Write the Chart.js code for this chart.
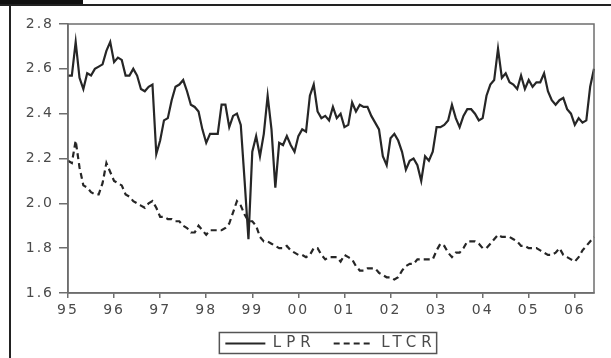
<!DOCTYPE html>
<html>
<head>
<meta charset="utf-8">
<script src="https://cdn.jsdelivr.net/npm/chart.js@4.4.0/dist/chart.umd.min.js"></script>
<style>
    html, body { margin: 0; padding: 0; background: #fff; }
    #wrap { position: relative; width: 611px; height: 358px; overflow: hidden; }
    canvas { position: absolute; left: 0; top: 0; }
    #tab { position: absolute; left: 0; top: 0; width: 83px; height: 5px; background: #111; }
    #rule { position: absolute; left: 0; top: 4px; width: 611px; height: 2px; background: #222; }
    #side { position: absolute; left: 9px; top: 4px; width: 2px; height: 354px; background: #222; }
</style>
</head>
<body>
<div id="wrap">
    <canvas id="chart" width="611" height="358"></canvas>
    <div id="tab"></div><div id="rule"></div><div id="side"></div>
</div>
<script>
// monthly, 1995:01 - 2006:06
const yearLabels = ["95", "96", "97", "98", "99", "00", "01", "02", "03", "04", "05", "06"];
const yTicks = [1.6, 1.8, 2.0, 2.2, 2.4, 2.6, 2.8];

const lpr = [
    2.57, 2.57, 2.72, 2.56, 2.51, 2.58, 2.57, 2.60, 2.61, 2.62, 2.68, 2.72,
    2.63, 2.65, 2.64, 2.57, 2.57, 2.60, 2.57, 2.51, 2.50, 2.52, 2.53, 2.22,
    2.28, 2.37, 2.38, 2.46, 2.52, 2.53, 2.55, 2.50, 2.44, 2.43, 2.41, 2.33,
    2.27, 2.31, 2.31, 2.31, 2.44, 2.44, 2.34, 2.39, 2.40, 2.35, 2.10, 1.84,
    2.23, 2.30, 2.21, 2.31, 2.48, 2.33, 2.07, 2.27, 2.26, 2.30, 2.26, 2.23,
    2.30, 2.33, 2.32, 2.48, 2.53, 2.41, 2.38, 2.39, 2.37, 2.43, 2.38, 2.40,
    2.34, 2.35, 2.45, 2.41, 2.44, 2.43, 2.43, 2.39, 2.36, 2.33, 2.21, 2.17,
    2.29, 2.31, 2.28, 2.23, 2.15, 2.19, 2.20, 2.17, 2.10, 2.21, 2.19, 2.23,
    2.34, 2.34, 2.35, 2.37, 2.44, 2.38, 2.34, 2.39, 2.42, 2.42, 2.40, 2.37,
    2.38, 2.48, 2.53, 2.55, 2.69, 2.56, 2.58, 2.54, 2.53, 2.51, 2.57, 2.51,
    2.55, 2.52, 2.54, 2.54, 2.58, 2.50, 2.46, 2.44, 2.46, 2.47, 2.42, 2.40,
    2.35, 2.38, 2.36, 2.37, 2.52, 2.60
];

const ltcr = [
    2.19, 2.18, 2.28, 2.16, 2.08, 2.07, 2.05, 2.04, 2.04, 2.09, 2.18, 2.14,
    2.10, 2.09, 2.08, 2.04, 2.03, 2.01, 2.00, 1.99, 1.98, 2.00, 2.01, 1.98,
    1.94, 1.94, 1.93, 1.93, 1.92, 1.92, 1.90, 1.89, 1.87, 1.87, 1.90, 1.88,
    1.86, 1.88, 1.88, 1.88, 1.88, 1.89, 1.91, 1.96, 2.01, 1.99, 1.95, 1.92,
    1.92, 1.90, 1.85, 1.83, 1.83, 1.82, 1.81, 1.80, 1.80, 1.81, 1.79, 1.78,
    1.77, 1.77, 1.76, 1.77, 1.80, 1.80, 1.77, 1.75, 1.76, 1.76, 1.76, 1.74,
    1.77, 1.76, 1.75, 1.72, 1.70, 1.70, 1.71, 1.71, 1.71, 1.69, 1.68, 1.67,
    1.67, 1.66, 1.67, 1.70, 1.72, 1.73, 1.73, 1.75, 1.75, 1.75, 1.75, 1.75,
    1.79, 1.82, 1.81, 1.78, 1.76, 1.78, 1.78, 1.80, 1.83, 1.83, 1.83, 1.82,
    1.80, 1.80, 1.82, 1.84, 1.86, 1.85, 1.85, 1.85, 1.84, 1.83, 1.81, 1.81,
    1.80, 1.80, 1.80, 1.79, 1.78, 1.77, 1.77, 1.78, 1.80, 1.77, 1.76, 1.75,
    1.74, 1.76, 1.79, 1.81, 1.83, 1.85
];

let monthLabels = [];
yearLabels.forEach(y => {
    for (let m = 1; m <= 12; m++) monthLabels.push(y + ":" + String(m).padStart(2, "0"));
});
monthLabels = monthLabels.slice(0, lpr.length);

const textFont = { family: "'DejaVu Sans', sans-serif", size: 14 };
const legendFont = { family: "'DejaVu Sans', sans-serif", size: 15 };
const axisGray = "#6e6e6e";
const lineColor = "#262626";
const textColor = "#4a4a4a";

// the legend text in the picture is much wider: give it its own letter spacing
const LegendBox = Chart.Legend._element;
["fit", "draw"].forEach(fn => {
    const orig = LegendBox.prototype[fn];
    LegendBox.prototype[fn] = function() {
        const ctx = this.ctx;
        const prev = ctx.letterSpacing;
        ctx.letterSpacing = "5px";
        const res = orig.apply(this, arguments);
        ctx.letterSpacing = prev;
        return res;
    };
});

// letter spacing for the tick labels, the frame and the legend box
const decor = {
    id: "decor",
    beforeUpdate(chart) { chart.ctx.letterSpacing = "2px"; },
    beforeDraw(chart) { chart.ctx.letterSpacing = "2px"; },
    afterDraw(chart) {
        const ctx = chart.ctx;
        const a = chart.chartArea;
        ctx.save();
        ctx.strokeStyle = axisGray;
        ctx.lineWidth = 1.5;
        ctx.strokeRect(a.left, a.top, a.right - a.left, a.bottom - a.top);

        const boxes = chart.legend.legendHitBoxes;
        if (boxes && boxes.length) {
            const first = boxes[0], last = boxes[boxes.length - 1];
            const cy = first.top + first.height / 2;
            const l = first.left - 6, r = last.left + last.width;
            ctx.strokeStyle = "#555";
            ctx.lineWidth = 1.5;
            ctx.strokeRect(l, cy - 11, r - l, 21);
        }
        ctx.restore();
    }
};

new Chart(document.getElementById("chart"), {
    type: "line",
    data: {
        labels: monthLabels,
        datasets: [{
            label: "LPR",
            data: lpr,
            borderColor: lineColor,
            borderWidth: 2.2,
            pointRadius: 0,
            tension: 0,
            fill: false
        }, {
            label: "LTCR",
            data: ltcr,
            borderColor: lineColor,
            borderWidth: 2.2,
            borderDash: [6, 4],
            pointRadius: 0,
            tension: 0,
            fill: false
        }]
    },
    options: {
        responsive: false,
        animation: false,
        layout: { padding: { left: 0, top: 24, right: 17, bottom: -3 } },
        plugins: {
            legend: {
                position: "bottom",
                fullSize: false,
                labels: {
                    usePointStyle: true,
                    pointStyle: "line",
                    pointStyleWidth: 40,
                    padding: 18,
                    color: textColor,
                    font: legendFont,
                    generateLabels: chart => Chart.defaults.plugins.legend.labels.generateLabels(chart).map((item, i) => {
                        item.lineDash = chart.data.datasets[i].borderDash || [];
                        item.strokeStyle = lineColor;
                        item.lineWidth = 2.2;
                        return item;
                    })
                }
            },
            tooltip: { enabled: false }
        },
        scales: {
            x: {
                type: "category",
                offset: false,
                grid: { drawOnChartArea: false, drawTicks: true, tickLength: 5, color: axisGray, lineWidth: 1.5 },
                border: { color: axisGray, width: 1.5 },
                ticks: {
                    autoSkip: false,
                    maxRotation: 0,
                    padding: 4,
                    color: textColor,
                    font: textFont,
                    callback: (v, i) => i % 12 === 0 ? yearLabels[i / 12] : null
                },
                afterFit: s => { s.height = 25; }
            },
            y: {
                min: 1.6,
                max: 2.8,
                afterBuildTicks: s => { s.ticks = yTicks.map(v => ({ value: v })); },
                grid: { drawOnChartArea: false, drawTicks: true, tickLength: 9, color: axisGray, lineWidth: 1.5 },
                border: { color: axisGray, width: 1.5 },
                ticks: {
                    padding: 5,
                    color: textColor,
                    font: textFont,
                    callback: v => v.toFixed(1)
                },
                afterFit: s => { s.width = 68; }
            }
        }
    },
    plugins: [decor]
});
</script>
</body>
</html>
